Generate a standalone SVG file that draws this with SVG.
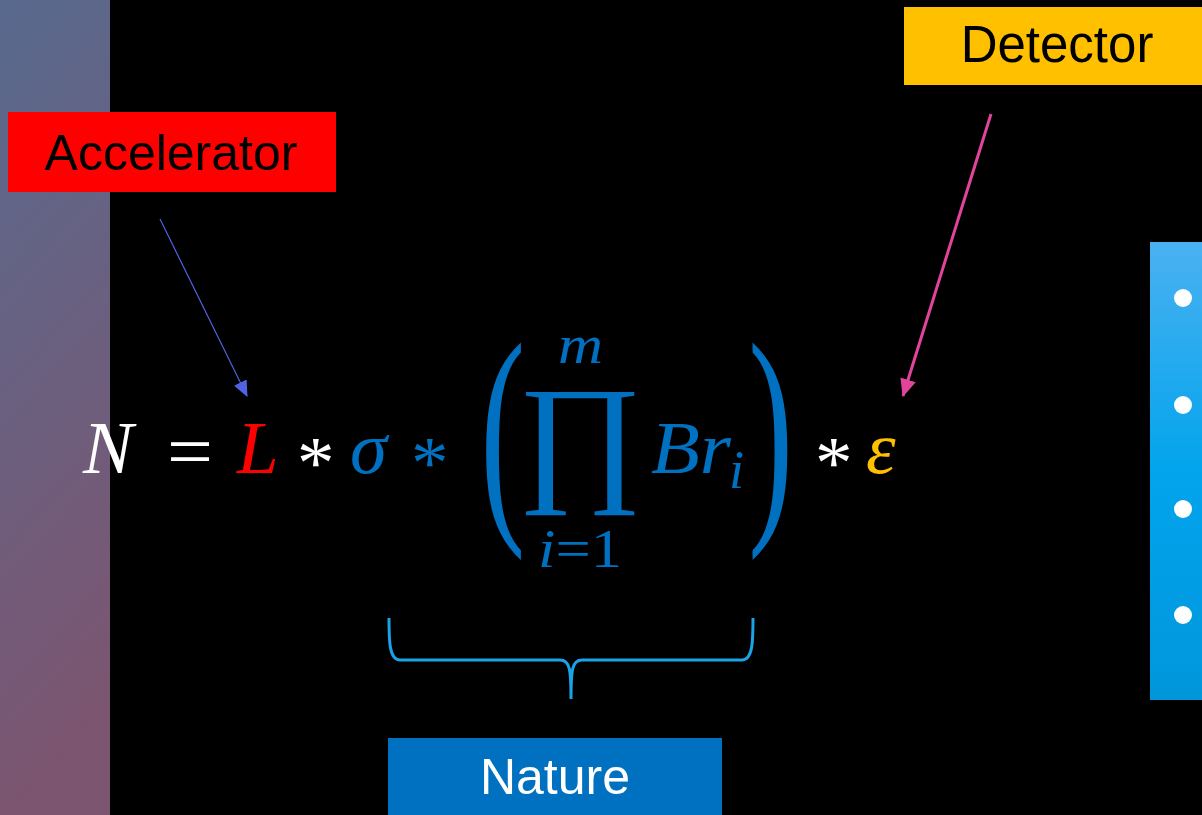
<svg xmlns="http://www.w3.org/2000/svg" width="1202" height="815" viewBox="0 0 1202 815">
  <defs>
    <linearGradient id="gLeft" x1="0" y1="0" x2="0.15" y2="1">
      <stop offset="0" stop-color="#586a8e"/>
      <stop offset="1" stop-color="#7c5570"/>
    </linearGradient>
    <linearGradient id="gRight" x1="0" y1="0" x2="0" y2="1">
      <stop offset="0" stop-color="#4ab1f1"/>
      <stop offset="0.5" stop-color="#02a4ec"/>
      <stop offset="1" stop-color="#0096dc"/>
    </linearGradient>
    <marker id="arrBlue" markerUnits="userSpaceOnUse" markerWidth="16" markerHeight="14" refX="15" refY="7" orient="auto">
      <path d="M0,0 L16,7 L0,14 Z" fill="#4f63e0"/>
    </marker>
    <marker id="arrPink" markerUnits="userSpaceOnUse" markerWidth="18" markerHeight="16" refX="17" refY="8" orient="auto">
      <path d="M0,0 L18,8 L0,16 Z" fill="#e2449c"/>
    </marker>
  </defs>
  <style>
    .lbl { font-family: "Liberation Sans", Arial, sans-serif; font-size: 50px; text-anchor: middle; }
    .m { font-family: "Liberation Serif", "DejaVu Serif", serif; font-style: italic; font-size: 75px; }
    .up { font-family: "Liberation Serif", "DejaVu Serif", serif; font-size: 75px; }
    .sm { font-size: 54px; }
    .blue { fill: #0070c0; }
    .white { fill: #ffffff; }
  </style>

  <rect x="0" y="0" width="1202" height="815" fill="#000000"/>
  <rect id="left-panel" x="0" y="0" width="110" height="815" fill="url(#gLeft)"/>

  <g id="right-panel">
    <rect x="1150" y="242" width="52" height="458" fill="url(#gRight)"/>
    <circle cx="1183" cy="298" r="9" fill="#ffffff"/>
    <circle cx="1183" cy="405" r="9" fill="#ffffff"/>
    <circle cx="1183" cy="509" r="9" fill="#ffffff"/>
    <circle cx="1183" cy="615" r="9" fill="#ffffff"/>
  </g>

  <g id="accelerator">
    <rect x="8" y="112" width="328" height="80" fill="#ff0000"/>
    <text class="lbl" x="171" y="170" fill="#000000">Accelerator</text>
  </g>

  <g id="detector">
    <rect x="904" y="7" width="298" height="78" fill="#ffc000"/>
    <text class="lbl" x="1057" y="62" fill="#000000" style="font-size:51px">Detector</text>
  </g>

  <g id="nature">
    <rect x="388" y="738" width="334" height="77" fill="#0070c0"/>
    <text class="lbl" x="555" y="794" fill="#ffffff">Nature</text>
  </g>

  <g id="equation">
    <text class="m white" x="83" y="473">N</text>
    <text class="up white" x="167" y="476" textLength="46" lengthAdjust="spacingAndGlyphs">=</text>
    <text class="m" x="237" y="473" fill="#ff0000">L</text>
    <text class="up white" x="297" y="488">*</text>
    <text class="m blue" x="350" y="473">σ</text>
    <text class="up blue" x="411" y="488">*</text>
    <text class="up blue" transform="translate(483,447) scale(1.35,2.4)" x="-2" y="26" style="font-size:100px">(</text>
    <text class="m blue sm" x="558" y="363" textLength="45" lengthAdjust="spacingAndGlyphs">m</text>
    <text class="up blue" transform="translate(580,485) scale(1.07,1)" x="0" y="0" text-anchor="middle" style="font-size:142px">∏</text>
    <text class="m blue sm" x="538" y="567" textLength="84" lengthAdjust="spacingAndGlyphs">i<tspan font-style="normal">=1</tspan></text>
    <text class="m blue" x="651" y="473" textLength="80" lengthAdjust="spacingAndGlyphs">Br</text>
    <text class="m blue sm" x="729" y="488">i</text>
    <text class="up blue" transform="translate(751,447) scale(1.35,2.4)" x="-2" y="26" style="font-size:100px">)</text>
    <text class="up white" x="815" y="488">*</text>
    <text class="m" x="866" y="473" fill="#ffc000">ε</text>
  </g>

  <g id="brace">
    <path d="M389,618 C389,640 389,660 400,660 L560,660 C570,660 571,670 571,699 C571,670 572,660 582,660 L742,660 C753,660 753,640 753,618" fill="none" stroke="#1aa3e6" stroke-width="3"/>
  </g>

  <g id="connectors">
    <line x1="160" y1="219" x2="247" y2="396" stroke="#4f63e0" stroke-width="1.2" marker-end="url(#arrBlue)"/>
    <line x1="991" y1="114" x2="903" y2="396" stroke="#e2449c" stroke-width="3" marker-end="url(#arrPink)"/>
  </g>
</svg>
